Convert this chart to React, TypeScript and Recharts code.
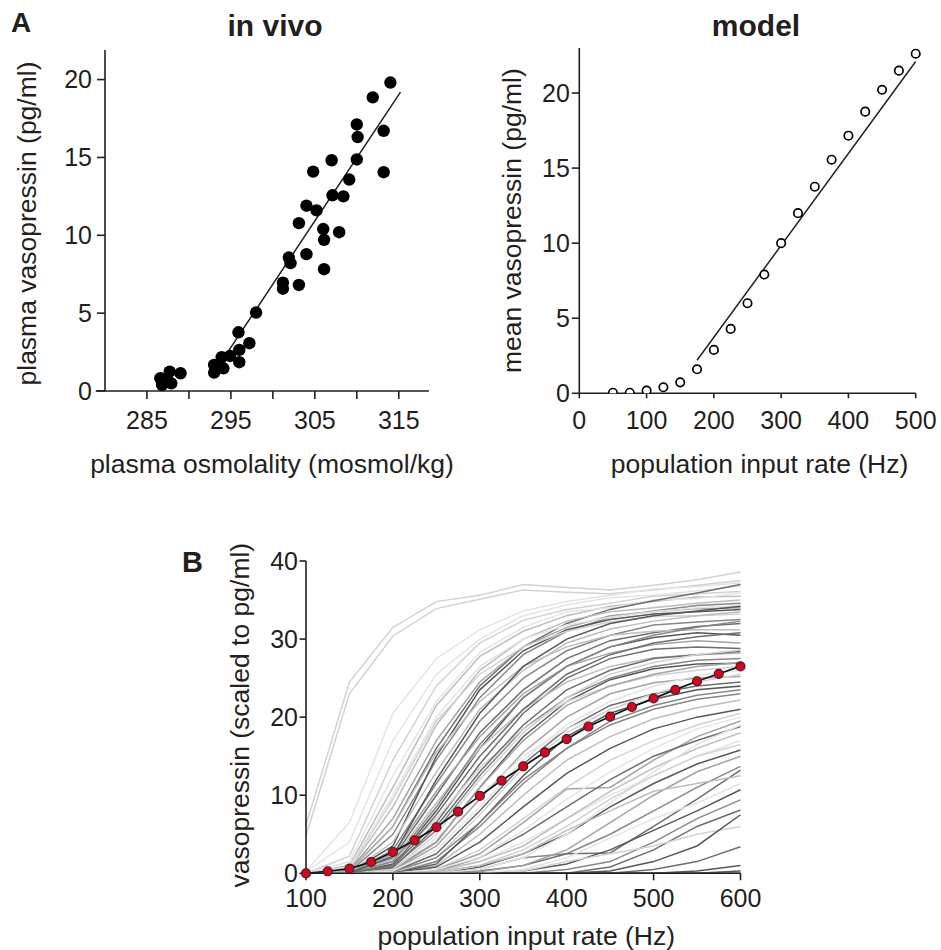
import React from 'react';
import {
  ScatterChart,
  Scatter,
  LineChart,
  Line,
  XAxis,
  YAxis,
  ReferenceLine,
} from 'recharts';

const INK = '#231f20';
const FONT = '"Liberation Sans", Arial, Helvetica, sans-serif';

// ---- Panel A, in vivo: plasma osmolality vs plasma vasopressin ----
const osmolality = [
  286.6, 286.8, 287.7, 287.9, 287.4, 289.0, 293.0, 293.0, 293.9, 294.1, 294.9,
  295.9, 296.0, 296.0, 297.2, 298.0, 301.2, 301.2, 301.9, 302.1, 303.1, 303.1,
  304.0, 304.0, 304.8, 305.2, 306.0, 306.1, 306.1, 307.0, 307.1, 307.9, 308.4,
  309.1, 310.0, 310.1, 310.0, 311.9, 313.2, 313.2, 314.0,
];
const plasmaVasopressin = [
  0.82, 0.39, 1.24, 0.49, 0.71, 1.14, 1.67, 1.18, 2.17, 1.46, 2.25, 3.77, 2.64,
  1.85, 3.07, 5.04, 6.96, 6.57, 8.57, 8.21, 6.81, 10.78, 11.9, 8.79, 14.09,
  11.6, 10.4, 9.71, 7.82, 14.82, 12.57, 10.2, 12.5, 13.58, 17.12, 16.31, 14.87,
  18.86, 16.71, 14.05, 19.81,
];
const inVivoFitX = [294.5, 315.2];
const inVivoFitY = [2.4, 19.2];
const osmolalityTicks = [285, 290, 295, 300, 305, 310, 315];
const inVivoYTicks = [0, 5, 10, 15, 20];

// ---- Panel A, model: population input rate vs mean vasopressin ----
const modelRates = [
  50, 75, 100, 125, 150, 175, 200, 225, 250, 275, 300, 325, 350, 375, 400, 425,
  450, 475, 500,
];
const modelVasopressin = [
  0.04, 0.04, 0.18, 0.4, 0.73, 1.6, 2.89, 4.29, 6.0, 7.91, 10.0, 12.0, 13.76,
  15.56, 17.16, 18.76, 20.22, 21.49, 22.62,
];
const modelFitX = [175, 500];
const modelFitY = [2.2, 22.1];
const modelXTicks = [0, 100, 200, 300, 400, 500];
const modelYTicks = [0, 5, 10, 15, 20];

// ---- Panel B: individual neuron responses and the population mean ----
const popRates = [
  100, 125, 150, 175, 200, 225, 250, 275, 300, 325, 350, 375, 400, 425, 450,
  475, 500, 525, 550, 575, 600,
];
const meanVasopressin = [
  0, 0.26, 0.6, 1.45, 2.73, 4.23, 5.9, 7.9, 9.91, 11.88, 13.7, 15.5, 17.18,
  18.8, 20.08, 21.3, 22.4, 23.5, 24.6, 25.55, 26.5,
];
const neuronRates = [100, 150, 200, 250, 300, 350, 400, 450, 500, 550, 600];
const neuronCurves = [
  [6.2, 24.5, 31.5, 34.8, 35.6, 37.0, 36.6, 36.3, 36.9, 37.6, 38.6],
  [4.8, 23.0, 30.4, 33.9, 35.1, 36.3, 36.0, 35.8, 36.3, 36.9, 37.5],
  [0.3, 6.5, 20.5, 27.5, 31.2, 33.6, 34.8, 35.6, 36.4, 36.7, 37.2],
  [0.2, 4.0, 17.0, 25.5, 30.0, 33.0, 34.4, 35.3, 35.6, 36.2, 36.8],
  [0, 2.2, 14.5, 24.0, 29.5, 32.4, 33.8, 34.6, 35.5, 35.8, 36.1],
  [0, 1.0, 11.0, 21.5, 27.8, 31.0, 33.0, 34.2, 34.8, 35.4, 35.5],
  [0, 1.5, 12.5, 22.0, 28.3, 31.5, 33.5, 34.0, 35.0, 35.2, 35.9],
  [0, 0.3, 6.0, 16.0, 24.0, 29.0, 32.0, 33.8, 34.9, 35.9, 37.0],
  [0, 0.5, 8.5, 19.0, 26.0, 30.0, 32.3, 33.5, 34.0, 34.6, 35.0],
  [0, 0.2, 5.0, 14.5, 22.5, 28.0, 31.0, 32.8, 33.6, 34.3, 34.6],
  [0, 0.4, 7.0, 17.0, 24.5, 29.0, 31.5, 33.0, 33.5, 33.9, 34.0],
  [0, 0.1, 3.5, 15.0, 23.5, 28.5, 31.2, 32.5, 33.2, 33.5, 33.8],
  [0, 0.6, 9.5, 19.5, 25.5, 29.0, 31.0, 32.2, 32.9, 33.0, 33.2],
  [0, 0, 3.0, 11.5, 19.5, 25.0, 28.5, 30.5, 31.8, 32.2, 32.5],
  [0, 0, 2.0, 10.0, 18.0, 23.5, 27.5, 29.8, 30.8, 31.6, 32.0],
  [0, 0.2, 6.0, 15.5, 22.0, 26.5, 29.0, 30.5, 31.0, 31.2, 31.2],
  [0, 0, 1.2, 8.0, 16.0, 22.5, 26.5, 29.0, 30.2, 30.8, 30.5],
  [0, 0, 2.5, 10.5, 17.5, 23.0, 26.5, 28.2, 29.3, 29.8, 29.5],
  [0, 0, 1.0, 6.5, 14.0, 20.5, 25.0, 27.5, 28.7, 29.0, 28.8],
  [0, 0, 1.8, 9.0, 16.0, 21.0, 24.5, 26.5, 27.6, 28.0, 28.2],
  [0, 0, 0.8, 5.5, 12.5, 18.5, 22.5, 25.0, 26.5, 27.3, 27.5],
  [0, 0, 0.5, 4.0, 11.0, 17.5, 22.0, 24.8, 26.2, 26.8, 26.9],
  [0, 0, 1.5, 7.0, 13.5, 18.5, 22.0, 24.0, 25.3, 26.0, 26.5],
  [0, 0, 0.3, 3.5, 9.5, 15.5, 20.0, 23.0, 24.4, 25.0, 25.2],
  [0, 0, 0.2, 2.5, 8.0, 14.0, 18.5, 21.5, 23.0, 24.0, 24.5],
  [0, 0, 0.5, 4.5, 10.0, 15.0, 18.5, 21.0, 22.5, 23.5, 23.9],
  [0, 0, 0, 1.5, 6.0, 11.5, 16.0, 19.0, 21.0, 22.3, 23.0],
  [0, 0, 0, 1.0, 5.0, 10.0, 14.5, 17.5, 19.8, 21.2, 22.2],
  [0, 0, 0, 0.8, 4.0, 8.5, 12.8, 16.0, 18.5, 20.0, 21.0],
  [0, 0, 0, 0.5, 3.0, 7.0, 11.0, 14.5, 17.0, 19.0, 20.5],
  [0, 0, 0, 0.5, 2.5, 6.5, 10.8, 11.0, 14.5, 17.5, 19.5],
  [0, 0, 0, 0.3, 2.0, 5.0, 8.5, 12.0, 15.0, 17.0, 18.8],
  [0, 0, 0, 0.2, 1.5, 4.0, 7.0, 10.0, 12.5, 15.0, 17.0],
  [0, 0, 0, 0, 0.8, 2.5, 5.0, 8.5, 11.5, 14.0, 15.8],
  [0, 0, 0, 0, 0.5, 2.0, 2.5, 5.0, 8.0, 11.0, 13.7],
  [0, 0, 0, 0, 0.3, 1.0, 2.5, 2.6, 6.0, 9.5, 13.2],
  [0, 0, 0, 0, 0, 0.3, 1.2, 3.0, 5.5, 8.0, 10.7],
  [0, 0, 0, 0, 0, 0, 0.5, 1.5, 4.0, 7.0, 9.4],
  [0, 0, 0, 0, 0, 0, 0, 0.8, 3.0, 6.0, 8.1],
  [0, 0, 0, 0, 0, 0.3, 1.5, 2.5, 3.5, 5.0, 6.0],
  [0, 0, 0, 0, 0, 0, 0, 0.3, 1.5, 3.5, 7.5],
  [0, 0, 0, 0, 0, 0, 0, 0, 0.5, 1.5, 3.4],
  [0, 0, 0, 0, 0, 0, 0, 0, 0, 0.3, 1.0],
  [0, 0, 0, 0, 0, 0, 0, 0, 0, 0, 0.3],
  [0, 0, 0, 0, 0, 0, 0, 0, 0, 0, 0],
  [0, 0, 0, 0.3, 1.5, 3.5, 7.0, 10.5, 13.5, 16.0, 18.0],
  [0, 0, 0.4, 4.0, 11.0, 17.0, 21.5, 24.0, 25.5, 26.5, 27.0],
  [0, 0, 1.5, 8.5, 16.5, 22.5, 26.5, 29.0, 30.5, 31.5, 32.3],
  [0, 0.8, 10.0, 20.0, 26.5, 30.0, 31.8, 32.8, 33.5, 34.0, 34.3],
  [0, 0, 0.7, 6.0, 13.0, 19.0, 23.5, 26.0, 27.5, 28.0, 28.4],
  [0, 0, 0, 2.0, 7.5, 13.5, 18.0, 21.0, 23.0, 24.5, 25.5],
  [0, 0, 0, 1.2, 6.5, 12.5, 17.5, 20.5, 22.3, 23.5, 24.0],
  [0, 0.1, 4.0, 13.0, 21.0, 26.0, 29.5, 31.3, 32.3, 33.0, 33.5],
  [0, 0, 0.2, 2.0, 6.5, 12.0, 16.0, 19.5, 21.5, 22.8, 23.5],
  [0, 0, 0, 0, 0.5, 2.0, 5.0, 9.0, 13.0, 16.5, 19.0],
  [0, 0, 0, 0, 0.2, 1.0, 3.0, 6.5, 10.0, 13.0, 15.0],
  [0, 0, 0, 0.5, 2.0, 5.5, 9.5, 13.0, 16.0, 18.5, 20.0],
  [0, 0, 0, 0, 1.0, 3.0, 6.0, 9.5, 12.5, 15.0, 16.5],
  [0, 0, 0.3, 3.0, 8.5, 14.5, 19.0, 22.0, 24.0, 25.3, 26.0],
  [0, 0, 0.5, 5.0, 12.0, 18.0, 22.5, 25.5, 27.0, 28.0, 28.6],
  [0, 0, 1.0, 7.5, 15.0, 21.0, 25.5, 28.0, 29.5, 30.3, 30.8],
  [0, 0, 2.2, 12.0, 20.5, 26.5, 30.0, 32.0, 33.0, 33.6, 34.2],
  [0, 0, 0, 0, 0, 0.5, 2.0, 4.5, 7.0, 9.0, 11.5],
  [0, 0, 0, 0.2, 1.0, 2.5, 5.5, 8.0, 10.5, 11.5, 12.5],
];
const neuronShades = [
  '#d2d2d2', '#d2d2d2', '#e4e4e4', '#e4e4e4', '#d2d2d2', '#bdbdbd', '#e4e4e4',
  '#6e6e6e', '#bdbdbd', '#888888', '#a3a3a3', '#585858', '#d2d2d2', '#888888',
  '#6e6e6e', '#bdbdbd', '#585858', '#a3a3a3', '#6e6e6e', '#bdbdbd', '#888888',
  '#585858', '#d2d2d2', '#a3a3a3', '#6e6e6e', '#e4e4e4', '#888888', '#bdbdbd',
  '#585858', '#d2d2d2', '#a3a3a3', '#6e6e6e', '#e4e4e4', '#585858', '#888888',
  '#6e6e6e', '#585858', '#888888', '#6e6e6e', '#d2d2d2', '#585858', '#6e6e6e',
  '#585858', '#585858', '#585858', '#bdbdbd', '#a3a3a3', '#888888', '#e4e4e4',
  '#6e6e6e', '#d2d2d2', '#585858', '#bdbdbd', '#888888', '#e4e4e4', '#a3a3a3',
  '#e4e4e4', '#d2d2d2', '#e4e4e4', '#d2d2d2', '#6e6e6e', '#585858', '#e4e4e4',
  '#bdbdbd',
];
const popXTicks = [100, 200, 300, 400, 500, 600];
const popYTicks = [0, 10, 20, 30, 40];

// ---- derived tables ----
const toPoints = (xs: number[], ys: number[]) => xs.map((x, i) => ({ x, y: ys[i] }));
const inVivoPoints = toPoints(osmolality, plasmaVasopressin);
const inVivoFit = toPoints(inVivoFitX, inVivoFitY);
const modelPoints = toPoints(modelRates, modelVasopressin);
const modelFit = toPoints(modelFitX, modelFitY);
const meanPoints = toPoints(popRates, meanVasopressin);
const neuronSeries = neuronCurves.map((vals) => toPoints(neuronRates, vals));

const tickStyle = { fontSize: 25, fontFamily: FONT, fill: INK };
const axisLabelStyle = { fontSize: 26.5, fontFamily: FONT, fill: INK, textAnchor: 'middle' as const };

const FilledDot = (p: any) => <circle cx={p.cx} cy={p.cy} r={6.2} fill="#000" />;
const OpenDot = (p: any) => (
  <circle cx={p.cx} cy={p.cy} r={4.2} fill="#fff" stroke="#000" strokeWidth={1.7} />
);
const NoShape = () => <g />;

const OsmolalityTick = (p: any) =>
  p.payload.value % 10 === 5 ? (
    <text x={p.x} y={p.y} dy="0.71em" textAnchor="middle" {...tickStyle}>
      {p.payload.value}
    </text>
  ) : (
    <g />
  );

export default function App() {
  return (
    <div style={{ position: 'absolute', left: 0, top: 0, width: 941, height: 950, background: '#fff' }}>
      {/* in vivo */}
      <div style={{ position: 'absolute', left: 0, top: 0 }}>
        <ScatterChart width={470} height={480} margin={{ top: 50, right: 41, bottom: 49, left: 45 }}>
          <XAxis
            type="number"
            dataKey="x"
            domain={[280, 318.6]}
            allowDataOverflow
            ticks={osmolalityTicks}
            tick={<OsmolalityTick />}
            tickSize={8}
            tickMargin={12}
            height={40}
            stroke={INK}
            strokeWidth={1.6}
            label={{ value: 'plasma osmolality (mosmol/kg)', position: 'bottom', offset: 23, dx: 5, style: axisLabelStyle }}
          />
          <YAxis
            type="number"
            dataKey="y"
            domain={[0, 21.9]}
            allowDataOverflow
            ticks={inVivoYTicks}
            tick={tickStyle}
            tickSize={8}
            tickMargin={5}
            width={60}
            stroke={INK}
            strokeWidth={1.6}
            label={{ value: 'plasma vasopressin (pg/ml)', angle: -90, position: 'insideLeft', offset: -18, dy: 3, style: axisLabelStyle }}
          />
          <ReferenceLine
            segment={[{ x: 278.9, y: 0 }, { x: 280, y: 0 }]}
            stroke={INK}
            strokeWidth={1.6}
            ifOverflow="visible"
          />
          <Scatter data={inVivoFit} line={{ stroke: INK, strokeWidth: 1.5 }} shape={NoShape} isAnimationActive={false} />
          <Scatter data={inVivoPoints} shape={FilledDot} isAnimationActive={false} />
        </ScatterChart>
      </div>

      {/* model */}
      <div style={{ position: 'absolute', left: 470, top: 0 }}>
        <ScatterChart width={471} height={480} margin={{ top: 48, right: 25.3, bottom: 46.7, left: 49.3 }}>
          <XAxis
            type="number"
            dataKey="x"
            domain={[0, 500]}
            ticks={modelXTicks}
            tick={tickStyle}
            tickSize={5}
            tickMargin={13}
            height={40}
            stroke={INK}
            strokeWidth={1.6}
            label={{ value: 'population input rate (Hz)', position: 'bottom', offset: 21, dx: 12, style: axisLabelStyle }}
          />
          <YAxis
            type="number"
            dataKey="y"
            domain={[0, 23]}
            allowDataOverflow
            ticks={modelYTicks}
            tick={tickStyle}
            tickSize={7.5}
            tickMargin={2}
            width={60}
            stroke={INK}
            strokeWidth={1.6}
            label={{ value: 'mean vasopressin (pg/ml)', angle: -90, position: 'insideLeft', offset: -7.6, style: axisLabelStyle }}
          />
          <Scatter data={modelFit} line={{ stroke: INK, strokeWidth: 1.5 }} shape={NoShape} isAnimationActive={false} />
          <Scatter data={modelPoints} shape={OpenDot} isAnimationActive={false} />
        </ScatterChart>
      </div>

      {/* B: neuron population */}
      <div style={{ position: 'absolute', left: 150, top: 480 }}>
        <LineChart width={650} height={470} margin={{ top: 81, right: 59.5, bottom: 46.7, left: 96 }}>
          <XAxis
            type="number"
            dataKey="x"
            domain={[100, 600]}
            ticks={popXTicks}
            tick={tickStyle}
            tickSize={7}
            tickMargin={9}
            height={30}
            stroke={INK}
            strokeWidth={1.6}
            allowDuplicatedCategory={false}
            label={{ value: 'population input rate (Hz)', position: 'bottom', offset: 23, dx: 3, style: axisLabelStyle }}
          />
          <YAxis
            type="number"
            dataKey="y"
            domain={[0, 40]}
            ticks={popYTicks}
            tick={tickStyle}
            tickSize={6.5}
            tickMargin={1.5}
            width={60}
            stroke={INK}
            strokeWidth={1.6}
            label={{ value: 'vasopressin (scaled to pg/ml)', angle: -90, position: 'insideLeft', offset: -6, dy: -2, style: axisLabelStyle }}
          />
          {neuronSeries.map((pts, i) => (
            <Line
              key={`neuron-${i}`}
              data={pts}
              dataKey="y"
              stroke={neuronShades[i]}
              strokeWidth={1.5}
              dot={false}
              activeDot={false}
              isAnimationActive={false}
            />
          ))}
          <Line
            data={meanPoints}
            dataKey="y"
            stroke="#111"
            strokeWidth={1.7}
            dot={{ r: 4.5, fill: '#e0001b', stroke: '#2a2a2a', strokeWidth: 1.2 }}
            activeDot={false}
            isAnimationActive={false}
          />
        </LineChart>
      </div>

      {/* panel letters and titles */}
      <svg
        width={941}
        height={950}
        style={{ position: 'absolute', left: 0, top: 0, pointerEvents: 'none' }}
        fontFamily={FONT}
        fill={INK}
      >
        <text x={11} y={32} fontSize={28} fontWeight="bold">A</text>
        <text x={275} y={36} fontSize={30} fontWeight="bold" textAnchor="middle">in vivo</text>
        <text x={756} y={36} fontSize={30} fontWeight="bold" textAnchor="middle">model</text>
        <text x={182} y={572} fontSize={29} fontWeight="bold">B</text>
      </svg>
    </div>
  );
}
